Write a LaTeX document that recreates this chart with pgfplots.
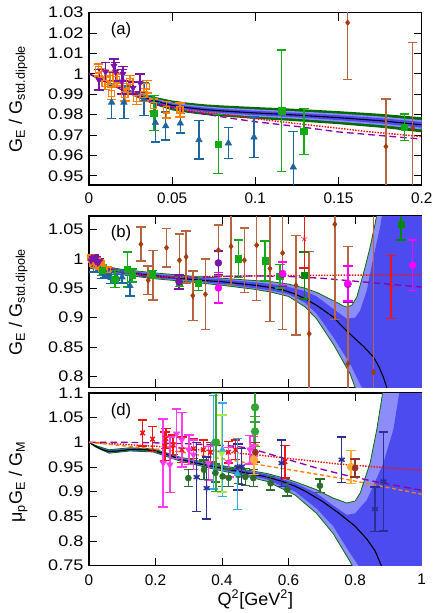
\documentclass[border=0pt]{standalone}
\usepackage{pgfplots}
\pgfplotsset{compat=1.18}
\usepackage{pgfplotstable}
\usepgfplotslibrary{fillbetween}
\usepackage{fontspec}
\setmainfont{Liberation Sans}

\definecolor{cblue}{RGB}{30,100,160}
\definecolor{cgreen}{RGB}{20,170,20}
\definecolor{cdgreen2}{RGB}{0,135,0}
\definecolor{cbrown}{RGB}{165,60,10}
\definecolor{cbrownbar}{RGB}{185,100,65}
\definecolor{corange}{RGB}{255,128,0}
\definecolor{cpurple}{RGB}{120,20,170}
\definecolor{cmag}{RGB}{255,0,255}
\definecolor{cmag2}{RGB}{255,60,240}
\definecolor{cred}{RGB}{240,20,20}
\definecolor{cdkgreen}{RGB}{45,110,45}
\definecolor{cnavy}{RGB}{45,45,150}
\definecolor{ccyan}{RGB}{50,170,235}
\definecolor{clgreen}{RGB}{170,235,60}
\definecolor{cmgreen}{RGB}{50,165,50}
\definecolor{corange2}{RGB}{255,170,50}
\definecolor{cbrown2}{RGB}{150,50,35}
\definecolor{bandgreen}{RGB}{0,105,0}
\definecolor{bandlight}{RGB}{140,140,250}
\definecolor{banddark}{RGB}{75,75,240}
\definecolor{lpurple}{RGB}{140,0,170}

% ---------- panel (a) data ----------
\pgfplotstableread{
x c gu gl lu ll du dl
0 1.0 1.0 1.0 1.0 1.0 1.0 1.0
0.01 0.9962 0.9966 0.9958 0.9965 0.9959 0.9964 0.9960
0.02 0.9925 0.9933 0.9917 0.9930 0.9920 0.9928 0.9922
0.03 0.9893 0.9906 0.9880 0.9902 0.9885 0.9898 0.9888
0.04 0.9866 0.9886 0.9846 0.9878 0.9854 0.9873 0.9859
0.05 0.9845 0.9869 0.9821 0.9859 0.9831 0.9854 0.9836
0.06 0.9833 0.9858 0.9808 0.9848 0.9818 0.9842 0.9824
0.07 0.9824 0.9850 0.9798 0.9840 0.9808 0.9834 0.9814
0.08 0.9818 0.9845 0.9791 0.9834 0.9802 0.9828 0.9808
0.10 0.9808 0.9837 0.9779 0.9826 0.9790 0.9819 0.9797
0.12 0.9800 0.9830 0.9770 0.9818 0.9782 0.9811 0.9789
0.15 0.9785 0.9817 0.9753 0.9805 0.9765 0.9797 0.9773
0.175 0.9770 0.9804 0.9736 0.9791 0.9749 0.9783 0.9757
0.2 0.9750 0.9787 0.9713 0.9773 0.9727 0.9764 0.9736
}\aband
\pgfplotstableread{
x y
0 1.0
0.02 0.9922
0.04 0.9855
0.06 0.9820
0.087 0.9795
0.1 0.9780
0.127 0.9754
0.15 0.9733
0.167 0.9717
0.2 0.9692
}\ared
\pgfplotstableread{
x y
0 1.0
0.02 0.9922
0.04 0.9853
0.06 0.9815
0.087 0.9780
0.1 0.9765
0.127 0.9740
0.15 0.9715
0.167 0.9703
0.2 0.9680
}\apurp
\pgfplotstableread{
x y e
0.0136 0.9860 0.0080
0.0210 0.9860 0.0080
0.0330 0.9875 0.0080
0.0399 0.9761 0.0096
0.0461 0.9744 0.0069
0.0549 0.9757 0.0048
0.0661 0.9676 0.0094
0.0838 0.9660 0.0076
0.0992 0.9689 0.0100
0.1228 0.9542 0.0175
}\aBlue
\pgfplotstableread{
x y e
0.0390 0.9807 0.0086
0.0777 0.9655 0.0145
0.1158 0.9818 0.0298
0.1292 0.9717 0.0113
0.1896 0.9738 0.0064
}\aGreen
\pgfplotstableread{
x y e
0.1555 1.0251 0.0280
0.1785 0.9643 0.0234
0.1946 0.9733 0.0420
}\aBrown
\pgfplotstableread{
x y e
0.0056 1.0019 0.0030
0.0076 0.9995 0.0030
0.0096 0.9954 0.0030
0.0126 0.9978 0.0030
0.0136 0.9905 0.0030
0.0167 0.9970 0.0030
0.0216 0.9897 0.0030
0.0227 0.9937 0.0030
0.0246 0.9962 0.0030
0.0287 0.9880 0.0030
0.0330 0.9897 0.0030
0.0347 0.9937 0.0030
0.0387 0.9846 0.0030
0.0467 0.9823 0.0040
0.0547 0.9823 0.0035
}\aOrange
\pgfplotstableread{
x y e
0.0060 0.9970 0.0050
0.0100 1.0010 0.0045
0.0150 1.0039 0.0033
0.0160 1.0010 0.0045
0.0197 0.9962 0.0060
0.0204 1.0000 0.0035
0.0265 0.9931 0.0030
0.0307 0.9955 0.0045
}\aPurple

% ---------- panel (b) data ----------
\pgfplotstableread{
x y
0 1.0
0.003 0.998
0.01 0.994
0.02 0.990
0.03 0.987
0.048 0.983
0.07 0.980
0.1 0.978
0.138 0.975
0.2 0.971
0.25 0.968
0.289 0.966
0.35 0.963
0.4 0.961
0.45 0.958
0.5 0.955
0.55 0.951
0.584 0.947
0.62 0.940
0.65 0.932
0.684 0.921
0.734 0.901
0.775 0.877
0.8 0.864
0.825 0.851
0.855 0.833
0.87 0.818
0.885 0.7985
0.895 0.781
0.92 0.730
}\bc
\pgfplotstableread{
x y
0 1.0
0.01 0.997
0.05 0.987
0.1 0.982
0.2 0.976
0.3 0.971
0.4 0.967
0.5 0.963
0.55 0.961
0.6 0.957
0.65 0.950
0.684 0.943
0.734 0.929
0.764 0.920
0.775 0.918
0.79 0.921
0.805 0.935
0.825 0.975
0.845 1.020
0.86 1.060
0.87 1.090
0.88 1.200
1.0 1.200
}\bUo
\pgfplotstableread{
x y
0 1.0
0.01 0.9965
0.05 0.986
0.1 0.981
0.2 0.974
0.3 0.969
0.4 0.965
0.5 0.960
0.55 0.957
0.6 0.952
0.65 0.945
0.684 0.936
0.734 0.915
0.775 0.898
0.8 0.900
0.815 0.912
0.835 0.946
0.855 1.003
0.875 1.054
0.885 1.090
0.9 1.200
1.0 1.200
}\bUi
\pgfplotstableread{
x y
0 1.0
0.01 0.9915
0.05 0.980
0.1 0.975
0.2 0.968
0.3 0.963
0.4 0.957
0.5 0.950
0.55 0.946
0.6 0.940
0.65 0.925
0.684 0.907
0.734 0.867
0.785 0.821
0.82 0.781
0.85 0.740
1.0 0.600
}\bLi
\pgfplotstableread{
x y
0 1.0
0.01 0.991
0.05 0.978
0.1 0.973
0.2 0.966
0.3 0.961
0.4 0.955
0.5 0.948
0.55 0.943
0.6 0.936
0.65 0.918
0.684 0.898
0.734 0.855
0.785 0.804
0.8 0.781
0.83 0.740
1.0 0.600
}\bLo
\pgfplotstableread{
x y
0 1.0
0.05 0.9852
0.1 0.9780
0.15 0.9733
0.2 0.9692
0.3 0.9695
0.5 0.9710
0.7 0.9720
1.0 0.9730
}\bred
\pgfplotstableread{
x y
0 1.0
0.05 0.9850
0.1 0.9765
0.15 0.9715
0.2 0.9680
0.3 0.9680
0.4 0.9700
0.5 0.9710
0.6 0.9700
0.7 0.9670
0.8 0.9620
0.9 0.9570
1.0 0.9520
}\bpurp
\pgfplotstableread{
x y e
0.272 0.958 0.010
0.329 0.958 0.012
0.449 1.0005 0.032
0.529 0.9965 0.034
0.574 0.9704 0.020
}\bGreen
\pgfplotstableread{
x y e
0.647 0.972 0.040
0.938 1.0585 0.026
}\bGreenD
\pgfplotstableread{
x y e
0.156 1.025 0.029
0.178 0.9635 0.024
0.193 0.972 0.042
0.233 1.019 0.033
0.272 0.9976 0.045
0.292 1.0033 0.044
0.312 0.9374 0.042
0.350 0.9396 0.060
0.389 1.0147 0.043
0.427 1.0215 0.065
0.467 0.9977 0.055
0.504 1.0233 0.0945
0.544 0.9834 0.090
0.582 1.010 0.130
0.622 0.955 0.085
0.662 0.8725 0.140
0.739 1.059 0.162
0.778 0.8213 0.200
0.855 0.807 0.270
}\bBrown
\pgfplotstableread{
x y e
0.2705 0.9607 0.012
0.389 0.9931 0.020
0.582 0.9738 0.020
0.778 0.9567 0.030
}\bPurpC
\pgfplotstableread{
x y e
0.389 0.9505 0.026
0.582 0.975 0.020
0.778 0.958 0.030
0.973 0.989 0.043
}\bMag
\pgfplotstableread{
x y e
0.647 1.0346 0.050
0.908 0.952 0.054
}\bRed

% ---------- panel (d) data ----------
\pgfplotstableread{
x y
0 1.0
0.02 0.992
0.04 0.985
0.06 0.9815
0.09 0.9825
0.123 0.9855
0.16 0.9855
0.193 0.9835
0.233 0.976
0.2735 0.966
0.32 0.958
0.374 0.951
0.42 0.945
0.474 0.938
0.534 0.930
0.584 0.920
0.62 0.911
0.65 0.901
0.7 0.881
0.75 0.857
0.8 0.830
0.835 0.804
0.86 0.780
0.875 0.756
0.885 0.740
}\dc
\pgfplotstableread{
x y
0 1.0
0.02 0.9935
0.06 0.985
0.123 0.989
0.193 0.987
0.2735 0.970
0.374 0.956
0.474 0.944
0.534 0.937
0.584 0.928
0.62 0.920
0.684 0.904
0.734 0.887
0.775 0.877
0.8 0.881
0.815 0.897
0.845 0.958
0.865 1.026
0.885 1.110
0.9 1.300
1.0 1.300
}\dUo
\pgfplotstableread{
x y
0 1.0
0.02 0.993
0.06 0.984
0.123 0.988
0.193 0.986
0.2735 0.968
0.374 0.954
0.474 0.942
0.534 0.935
0.584 0.925
0.62 0.917
0.684 0.897
0.734 0.872
0.775 0.853
0.8 0.856
0.835 0.883
0.86 0.920
0.885 0.958
0.915 1.026
0.935 1.110
0.95 1.300
1.0 1.300
}\dUi
\pgfplotstableread{
x y
0 1.0
0.02 0.991
0.06 0.979
0.123 0.9835
0.193 0.9815
0.2735 0.964
0.374 0.948
0.474 0.934
0.534 0.925
0.584 0.910
0.62 0.900
0.684 0.866
0.734 0.830
0.785 0.775
0.815 0.745
0.85 0.680
1.0 0.600
}\dLi
\pgfplotstableread{
x y
0 1.0
0.02 0.9905
0.06 0.978
0.123 0.9825
0.193 0.9805
0.2735 0.962
0.374 0.946
0.474 0.931
0.534 0.921
0.584 0.905
0.62 0.893
0.684 0.856
0.734 0.815
0.785 0.758
0.795 0.745
0.85 0.650
1.0 0.600
}\dLo
\pgfplotstableread{
x y
0 1.0
0.25 0.990
0.5 0.975
0.75 0.956
1.0 0.943
}\dred
\pgfplotstableread{
x y
0 1.0
0.1 1.0
0.2 0.999
0.3 0.997
0.4 0.994
0.44 0.992
0.484 0.988
0.584 0.968
0.684 0.948
0.785 0.931
0.885 0.917
1.0 0.903
}\dpurp
\pgfplotstableread{
x y
0 1.0
0.25 0.983
0.5 0.956
0.75 0.928
1.0 0.895
}\dorange
\pgfplotstableread{
x y e
0.161 1.019 0.026
0.191 1.0066 0.025
0.228 0.992 0.029
0.231 1.008 0.020
0.253 0.995 0.020
0.279 0.985 0.026
0.314 0.987 0.020
0.344 0.985 0.020
0.365 0.980 0.020
0.419 0.980 0.022
0.440 0.985 0.020
0.589 0.961 0.033
}\dRed
\pgfplotstableread{
x y e
0.223 0.958 0.089
0.243 0.9545 0.056
0.2635 1.0175 0.050
0.279 1.0053 0.055
0.300 0.985 0.030
0.314 0.975 0.030
0.359 0.958 0.034
0.420 0.960 0.030
0.484 0.985 0.029
0.494 0.992 0.020
}\dMag
\pgfplotstableread{
x y e
0.2986 0.9275 0.017
0.3457 0.9444 0.020
0.380 0.938 0.018
0.4018 0.931 0.020
0.420 0.928 0.018
0.449 0.934 0.017
0.470 0.930 0.017
0.494 0.9275 0.017
0.546 0.917 0.014
0.596 0.9038 0.013
0.694 0.912 0.014
}\dDk
\pgfplotstableread{
x y e
0.3236 0.9295 0.070
0.3537 0.9072 0.063
0.447 0.950 0.047
0.459 0.951 0.036
0.579 0.958 0.047
0.7595 0.9647 0.046
0.860 0.8645 0.045
0.885 0.9207 0.100
}\dNavy
\pgfplotstableread{
x y e
0.374 1.000 0.095
0.401 0.985 0.095
0.446 0.936 0.072
}\dCyan
\pgfplotstableread{
x y e
0.399 0.977 0.078
}\dLg
\pgfplotstableread{
x y e
0.382 1.000 0.100
0.499 1.071 0.030
0.499 1.022 0.030
}\dMg
\pgfplotstableread{
x y e
0.496 0.965 0.030
0.7876 0.950 0.033
}\dOr
\pgfplotstableread{
x y e
0.500 0.980 0.020
0.800 0.948 0.018
}\dBr

\pgfplotsset{
  panel/.style={scale only axis, width=249.5pt, xmin=0,
    axis line style={line width=0.9pt}, tick align=inside,
    major tick length=6pt, tick style={line width=0.6pt, black},
    scaled ticks=false, /pgf/number format/fixed,
    /pgf/number format/assume math mode=true,
    tick label style={font=\fontsize{11.5}{13}\selectfont},
    yticklabel style={xscale=1.18},
    label style={font=\fontsize{13.5}{16}\selectfont}},
  eb/.style={only marks,
    error bars/y dir=both, error bars/y explicit,
    error bars/error bar style={line width=1.1pt, solid},
    error bars/error mark options={rotate=90, mark size=3.6pt, line width=1.1pt, solid}},
  brownbars/.style={error bars/error bar style={line width=1.1pt, solid, cbrownbar},
    error bars/error mark options={rotate=90, mark size=3.6pt, line width=1.1pt, solid, cbrownbar}},
  blk/.style={black, line width=0.8pt},
  reddot/.style={cred, densely dotted, line width=1.1pt},
  purpdash/.style={lpurple, dash pattern=on 5pt off 3pt, line width=1pt},
  ordash/.style={corange, dash pattern=on 3pt off 2pt, line width=1pt},
}

\begin{document}
\begin{tikzpicture}

% ================= (a) =================
\begin{axis}[panel, at={(66.75pt,-9.5pt)}, anchor=north west, height=129.2pt,
  xmax=0.2, ymin=0.9455, ymax=1.03,
  xtick={0,0.05,0.1,0.15,0.2},
  ytick={0.95,0.96,0.97,0.98,0.99,1,1.01,1.02,1.03},
  xticklabel style={yshift=-2pt},
  ylabel={G\textsubscript{E} / G\textsubscript{std.dipole}},
  ylabel style={at={(axis description cs:-0.213,0.5)}, anchor=center}]
\addplot[name path=ag1, draw=none, forget plot] table[x=x,y=gu] {\aband};
\addplot[name path=ag2, draw=none, forget plot] table[x=x,y=gl] {\aband};
\addplot[fill=bandgreen, draw=none, forget plot] fill between[of=ag1 and ag2];
\addplot[name path=al1, draw=none, forget plot] table[x=x,y=lu] {\aband};
\addplot[name path=al2, draw=none, forget plot] table[x=x,y=ll] {\aband};
\addplot[fill=bandlight, draw=none, forget plot] fill between[of=al1 and al2];
\addplot[name path=ad1, draw=none, forget plot] table[x=x,y=du] {\aband};
\addplot[name path=ad2, draw=none, forget plot] table[x=x,y=dl] {\aband};
\addplot[fill=banddark, draw=none, forget plot] fill between[of=ad1 and ad2];
\addplot[blk] table[x=x,y=c] {\aband};
\addplot[reddot] table {\ared};
\addplot[purpdash] table {\apurp};
\addplot[cblue, eb, mark=triangle*, mark size=2.8pt] table[y error=e] {\aBlue};
\addplot[corange, eb, mark=square, mark size=2.3pt, mark options={line width=0.9pt}] table[y error=e] {\aOrange};
\addplot[cpurple, eb, mark=triangle*, mark size=2.7pt, mark options={rotate=180}] table[y error=e] {\aPurple};
\addplot[cgreen, eb, mark=square*, mark size=2.4pt] table[y error=e] {\aGreen};
\addplot[cbrown, eb, brownbars, mark=diamond*, mark size=2.1pt] table[y error=e] {\aBrown};
\node[font=\fontsize{12.5}{15}\selectfont] at (rel axis cs:0.096,0.9) {(a)};
\end{axis}

% ================= (b) =================
\begin{axis}[panel, at={(66.75pt,-162pt)}, anchor=north west, height=128.6pt,
  xmax=1, ymin=0.781, ymax=1.073,
  xtick={0,0.2,0.4,0.6,0.8,1}, xticklabels={},
  ytick={0.8,0.85,0.9,0.95,1,1.05},
  ylabel={G\textsubscript{E} / G\textsubscript{std.dipole}},
  ylabel style={at={(axis description cs:-0.213,0.5)}, anchor=center}]
\addplot[name path=bo1, green!45!black, line width=0.6pt, forget plot] table {\bUo};
\addplot[name path=bo2, green!45!black, line width=0.6pt, forget plot] table {\bLo};
\addplot[fill=bandlight, draw=none, forget plot] fill between[of=bo1 and bo2];
\addplot[name path=bi1, draw=none, forget plot] table {\bUi};
\addplot[name path=bi2, draw=none, forget plot] table {\bLi};
\addplot[fill=banddark, draw=none, forget plot] fill between[of=bi1 and bi2];
\addplot[blk] table {\bc};
\addplot[reddot] table {\bred};
\addplot[purpdash] table {\bpurp};
\addplot[cbrown, eb, brownbars, mark=diamond*, mark size=2.1pt] table[y error=e] {\bBrown};
\addplot[cblue, eb, mark=triangle*, mark size=2.8pt] table[y error=e] {\aBlue};
\addplot[corange, eb, mark=square, mark size=2.3pt, mark options={line width=0.9pt}] table[y error=e] {\aOrange};
\addplot[cpurple, eb, mark=triangle*, mark size=2.7pt, mark options={rotate=180}] table[y error=e] {\aPurple};
\addplot[cgreen, eb, mark=square*, mark size=2.4pt] table[y error=e] {\aGreen};
\addplot[cgreen, eb, mark=square*, mark size=2.4pt] table[y error=e] {\bGreen};
\addplot[cdgreen2, eb, mark=square*, mark size=2.4pt] table[y error=e] {\bGreenD};
\addplot[cpurple, eb, mark=*, mark size=2.6pt] table[y error=e] {\bPurpC};
\addplot[cmag, eb, mark=*, mark size=2.6pt] table[y error=e] {\bMag};
\addplot[cred, eb, mark=star, mark size=2.4pt] table[y error=e] {\bRed};
\node[font=\fontsize{12.5}{15}\selectfont] at (rel axis cs:0.096,0.9) {(b)};
\end{axis}

% ================= (d) =================
\begin{axis}[panel, at={(66.75pt,-294.75pt)}, anchor=north west, height=129.5pt,
  xmax=1, ymin=0.75, ymax=1.1,
  xtick={0,0.2,0.4,0.6,0.8,1},
  ytick={0.75,0.8,0.85,0.9,0.95,1,1.05,1.1},
  xticklabel style={yshift=-3pt},
  xlabel={Q\textsuperscript{2}[GeV\textsuperscript{2}]},
  xlabel style={at={(axis description cs:0.5,-0.197)}, anchor=center},
  ylabel={μ\textsubscript{p}G\textsubscript{E} / G\textsubscript{M}},
  ylabel style={at={(axis description cs:-0.213,0.486)}, anchor=center}]
\addplot[name path=do1, green!45!black, line width=0.6pt, forget plot] table {\dUo};
\addplot[name path=do2, green!45!black, line width=0.6pt, forget plot] table {\dLo};
\addplot[fill=bandlight, draw=none, forget plot] fill between[of=do1 and do2];
\addplot[name path=di1, draw=none, forget plot] table {\dUi};
\addplot[name path=di2, draw=none, forget plot] table {\dLi};
\addplot[fill=banddark, draw=none, forget plot] fill between[of=di1 and di2];
\addplot[blk] table {\dc};
\addplot[reddot] table {\dred};
\addplot[purpdash] table {\dpurp};
\addplot[ordash] table {\dorange};
\addplot[cred, eb, mark=x, mark size=2.4pt, mark options={line width=1.1pt}] table[y error=e] {\dRed};
\addplot[cmag2, eb, mark=triangle*, mark size=2.8pt, mark options={rotate=180}] table[y error=e] {\dMag};
\addplot[cdkgreen, eb, mark=*, mark size=2.3pt] table[y error=e] {\dDk};
\addplot[cnavy, eb, mark=asterisk, mark size=2.6pt, mark options={line width=1.1pt}] table[y error=e] {\dNavy};
\addplot[ccyan, eb, mark=triangle*, mark size=2.8pt] table[y error=e] {\dCyan};
\addplot[clgreen, eb, mark=triangle*, mark size=2.8pt, mark options={rotate=180}] table[y error=e] {\dLg};
\addplot[cmgreen, eb, mark=*, mark size=2.9pt] table[y error=e] {\dMg};
\addplot[corange2, eb, mark=*, mark size=2.9pt] table[y error=e] {\dOr};
\addplot[cbrown2, eb, mark=*, mark size=2.3pt] table[y error=e] {\dBr};
\node[font=\fontsize{12.5}{15}\selectfont] at (rel axis cs:0.096,0.892) {(d)};
\end{axis}

\pgfresetboundingbox
\path[use as bounding box] (0,0) rectangle (324pt,-459.75pt);
\end{tikzpicture}
\end{document}
